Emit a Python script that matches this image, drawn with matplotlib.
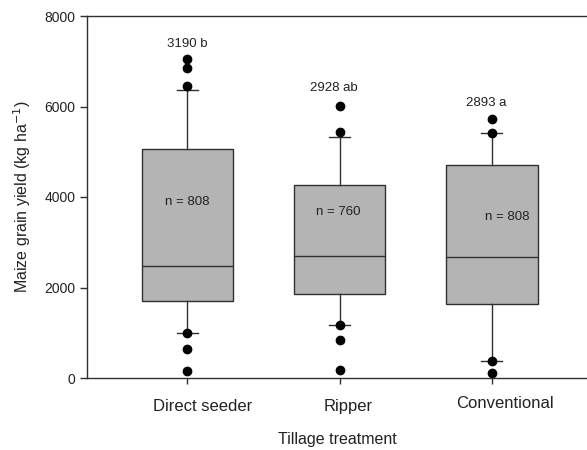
import matplotlib
matplotlib.use("Agg")
import matplotlib.pyplot as plt
import matplotlib.transforms as mtransforms

plt.rcParams['font.family'] = ['Liberation Sans', 'DejaVu Sans']

categories = ["Direct seeder", "Ripper", "Conventional"]
q1 = [1708, 1849, 1643]
median = [2475, 2703, 2681]
q3 = [5061, 4265, 4707]
whisker_low = [988, 1164, 376]
whisker_high = [6365, 5333, 5407]
outliers = [
    [7043, 6844, 6453, 988, 648, 155],
    [6011, 5443, 1164, 846, 177],
    [5717, 5421, 376, 117],
]
mean_labels = ["3190 b", "2928 ab", "2893 a"]
mean_label_y = [7381, 6409, 6077]
mean_label_dx = [0.0, -0.04, -0.04]
n_labels = ["n = 808", "n = 760", "n = 808"]
n_label_y = [3890, 3669, 3558]
n_label_dx = [0.0, -0.01, 0.10]

fig = plt.figure(figsize=(5.87, 4.5), dpi=100)
ax = fig.add_axes([87/587, 72/450, 1 - 87/587, (378-16)/450])

stats = []
for i in range(3):
    stats.append(dict(med=median[i], q1=q1[i], q3=q3[i], whislo=whisker_low[i],
                      whishi=whisker_high[i], fliers=outliers[i]))
pos = [1, 2, 3]
ax.bxp(stats, positions=pos, widths=0.6, patch_artist=True, showfliers=True,
       capwidths=0.14,
       boxprops=dict(facecolor='#b4b4b4', edgecolor='#303030', linewidth=1.0),
       medianprops=dict(color='#303030', linewidth=1.0),
       whiskerprops=dict(color='#303030', linewidth=1.0),
       capprops=dict(color='#303030', linewidth=1.0),
       flierprops=dict(marker='o', markerfacecolor='black', markeredgecolor='black',
                       markersize=6, linestyle='none'))

for i in range(3):
    ax.text(pos[i] + mean_label_dx[i], mean_label_y[i], mean_labels[i],
            ha='center', va='center', fontsize=9.5, color='#222222')
    ax.text(pos[i] + n_label_dx[i], n_label_y[i], n_labels[i],
            ha='center', va='center', fontsize=9.5, color='#222222')

ax.set_xlim(1 - 100/152, 3 + 95/152)
ax.set_ylim(0, 8000)
ax.set_yticks([0, 2000, 4000, 6000, 8000])
ax.set_xticks(pos)
ax.set_xticklabels(categories, fontsize=12)
ax.tick_params(axis='y', labelsize=10, length=5, width=1, colors='#303030', labelcolor='#222222')
ax.tick_params(axis='x', length=4, width=1, colors='#303030', labelcolor='#222222', pad=11)
label_shift_px = [15, 9, 13]
label_shift_py = [0, 0, 3]
for lab, dx, dy in zip(ax.get_xticklabels(), label_shift_px, label_shift_py):
    lab.set_transform(lab.get_transform() +
                      mtransforms.ScaledTranslation(dx/100, dy/100, fig.dpi_scale_trans))
ax.spines['right'].set_visible(False)
for s in ['left', 'bottom', 'top']:
    ax.spines[s].set_linewidth(1.0)
    ax.spines[s].set_color('#303030')

ax.set_xlabel("Tillage treatment", fontsize=11.5, labelpad=13, color='#222222')
ax.set_ylabel("Maize grain yield (kg ha$^{-1}$)", fontsize=11.5, labelpad=8, color='#222222')

fig.savefig("out.png", dpi=100)
